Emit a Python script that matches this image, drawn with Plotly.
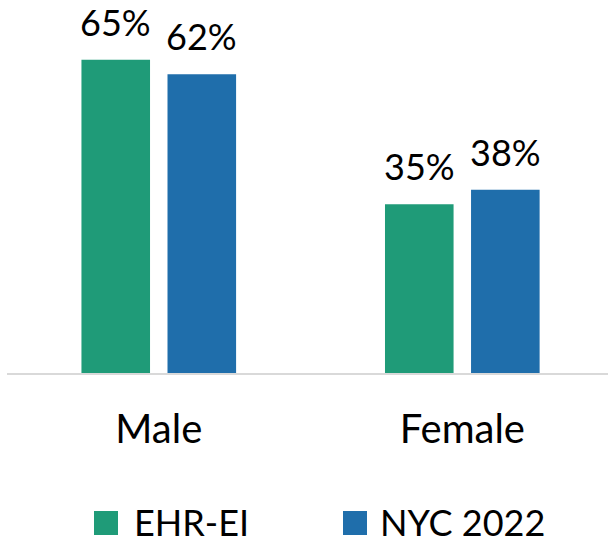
import plotly.graph_objects as go

categories = ["Male", "Female"]
series_names = ["EHR-EI", "NYC 2022"]
ehr_ei = [65, 35]
nyc_2022 = [62, 38]
series_values = [ehr_ei, nyc_2022]
colors = ["#1F9B78", "#1F6EAB"]

W, H = 608, 545
ML, MT, MB = 7, 0, 172
PLOT_H = H - MT - MB
FONT = "Lato, 'Open Sans', sans-serif"

fig = go.Figure()
for name, vals, col in zip(series_names, series_values, colors):
    fig.add_trace(go.Bar(
        x=categories, y=vals, name=name, marker=dict(color=col, line=dict(width=0)),
        showlegend=False,
    ))

# data labels as annotations (shifted over their bars)
bar_shift = [-43, 43]
for i, vals in enumerate(series_values):
    for c, v in zip(categories, vals):
        fig.add_annotation(x=c, y=v, text=f"{v}%", showarrow=False, xref="x", yref="y",
                           xshift=bar_shift[i], yanchor="bottom", yshift=14,
                           font=dict(size=36, color="#000000", family=FONT))

def py(p):
    return (H - MB - p) / PLOT_H

def px(p):
    return (p - ML) / (W - ML)

# custom legend
leg_sq_x = [94, 343]
leg_txt_x = [132, 378]
for i, name in enumerate(series_names):
    fig.add_shape(type="rect", xref="paper", yref="paper",
                  x0=px(leg_sq_x[i]), x1=px(leg_sq_x[i] + 24), y0=py(535), y1=py(511),
                  fillcolor=colors[i], line=dict(width=0))
    fig.add_annotation(x=px(leg_txt_x[i]), y=py(522), xref="paper", yref="paper",
                       text=name, showarrow=False, xanchor="left", yanchor="middle",
                       font=dict(size=36, color="#000000", family=FONT))

fig.update_layout(
    width=W, height=H,
    margin=dict(l=ML, r=0, t=MT, b=MB),
    paper_bgcolor="white", plot_bgcolor="white",
    barmode="group", bargap=0.433, bargroupgap=0.203,
    font=dict(family=FONT, size=36, color="#000000"),
    xaxis=dict(range=[-0.5, 1.48], showline=True, linecolor="#D9D9D9", linewidth=2,
               ticks="", showgrid=False, ticklabelstandoff=20,
               tickfont=dict(size=40, family=FONT, color="#000000")),
    yaxis=dict(range=[0, 77.4], visible=False, showgrid=False, zeroline=False),
)

fig.write_html("out.html", config={"displayModeBar": False},
               post_script="document.body.style.margin='0';document.body.style.padding='0';")
